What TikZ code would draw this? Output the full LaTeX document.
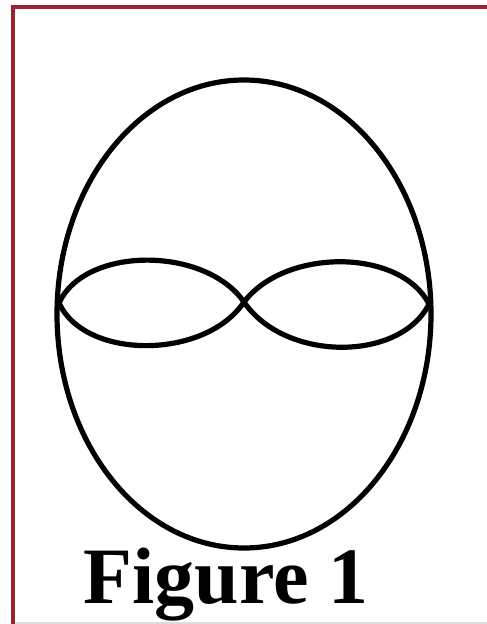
\documentclass[tikz,border=0pt]{standalone}
\usepackage{fontspec}
\setmainfont{Liberation Serif}
\definecolor{frame}{HTML}{9B2230}
\definecolor{faint}{HTML}{E2DADA}
\tikzset{curve/.style={line width=5.2pt, black}}
\begin{document}
\begin{tikzpicture}[x=1pt,y=-1pt]
\useasboundingbox (0,0) rectangle (487,624);
\fill[white] (0,0) rectangle (487,624);
% frame
\draw[frame, line width=4pt] (13,624) -- (13,7) -- (487,7);
\draw[faint, line width=1.5pt] (15,623) -- (487,623);
% outer ellipse
\draw[curve] (244,314) ellipse [x radius=187, y radius=234];
% coordinates for lenses
\coordinate (L) at (59,303);
\coordinate (C) at (244,302);
\coordinate (R) at (429,304);
% left lens
\draw[curve] (L) .. controls (85,246) and (205,246) .. (C);
\draw[curve] (L) .. controls (85,360) and (205,360) .. (C);
% right lens
\draw[curve] (C) .. controls (285,248) and (400,248) .. (R);
\draw[curve] (C) .. controls (285,362) and (400,362) .. (R);
% caption
\node[anchor=base, inner sep=0pt, font=\fontsize{80}{80}\selectfont\bfseries] (cap) at (226,603) {Figure 1};
\end{tikzpicture}
\end{document}
